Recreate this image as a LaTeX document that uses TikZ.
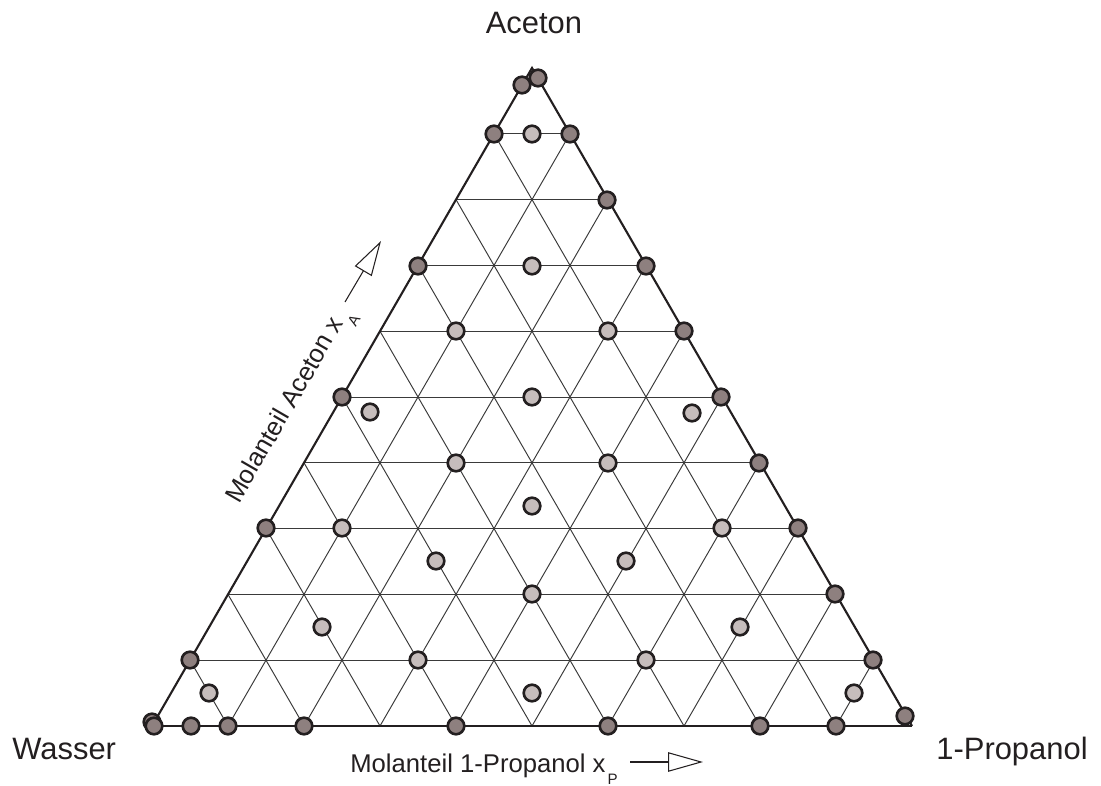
\documentclass[tikz,border=0pt]{standalone}
\usepackage{fontspec}
\setmainfont{Liberation Sans}
\usetikzlibrary{arrows.meta,calc}
\definecolor{ink}{HTML}{231F20}
\definecolor{darkfill}{HTML}{8E807F}
\definecolor{lightfill}{HTML}{C6BDBC}
\definecolor{gridc}{HTML}{3A3A3A}
\newcommand\lowsub[1]{\hspace{1.2pt}\raisebox{-7.2pt}{\fontsize{8.6pt}{9pt}\selectfont #1}}
\begin{document}
\begin{tikzpicture}[x=0.02cm,y=-0.02cm,
  gridline/.style={gridc, line width=0.55pt},
  edge/.style={ink, line width=1.2pt},
  baseedge/.style={ink, line width=1.7pt},
  dot/.style={circle, draw=ink, line width=1.5pt, minimum size=0.332cm, inner sep=0pt},
  ddot/.style={dot, fill=darkfill},
  ldot/.style={dot, fill=lightfill},
  axlabel/.style={font=\fontsize{14.6pt}{17pt}\selectfont, inner sep=0pt, text=ink},
  cornerlabel/.style={font=\fontsize{17.6pt}{20pt}\selectfont, inner sep=0pt, text=ink},
  openarrow/.style={ink, line width=0.6pt, -{Triangle[open, length=0.7cm, width=0.39cm]}}
]
\useasboundingbox (0,0) rectangle (1101,786);
\coordinate (W) at (152,726);
\coordinate (P) at (912,726);
\coordinate (C) at (532,68);
% grid
\foreach \k in {1,...,9} {
  \draw[gridline] ($(W)!\k/10!(C)$) -- ($(P)!\k/10!(C)$);
  \draw[gridline] ($(W)!\k/10!(P)$) -- ($(C)!\k/10!(P)$);
  \draw[gridline] ($(W)!\k/10!(P)$) -- ($(W)!\k/10!(C)$);
}
% outline
\draw[edge, line join=miter] (W) -- (C) -- (P);
\draw[baseedge] (W) -- (P);
% dark points (edges)
\node[ddot] (d01) at (152,722) {};
\node[ddot] (d02) at (154,726) {};
\node[ddot] (d03) at (190,660) {};
\node[ddot] (d04) at (266,528) {};
\node[ddot] (d05) at (342,397) {};
\node[ddot] (d06) at (418,266) {};
\node[ddot] (d07) at (494,134) {};
\node[ddot] (d08) at (522,85) {};
\node[ddot] (d09) at (538,78) {};
\node[ddot] (d10) at (191,726) {};
\node[ddot] (d11) at (228,726) {};
\node[ddot] (d12) at (304,726) {};
\node[ddot] (d13) at (456,726) {};
\node[ddot] (d14) at (608,726) {};
\node[ddot] (d15) at (760,726) {};
\node[ddot] (d16) at (836,726) {};
\node[ddot] (d17) at (570,134) {};
\node[ddot] (d18) at (607,200) {};
\node[ddot] (d19) at (646,266) {};
\node[ddot] (d20) at (684,331) {};
\node[ddot] (d21) at (721,397) {};
\node[ddot] (d22) at (759,463) {};
\node[ddot] (d23) at (798,528) {};
\node[ddot] (d24) at (835,594) {};
\node[ddot] (d25) at (873,660) {};
\node[ddot] (d26) at (905,716) {};
% light points (interior)
\node[ldot] (l01) at (532,134) {};
\node[ldot] (l02) at (532,266) {};
\node[ldot] (l03) at (456,331) {};
\node[ldot] (l04) at (608,331) {};
\node[ldot] (l05) at (532,397) {};
\node[ldot] (l06) at (370,412) {};
\node[ldot] (l07) at (692,413) {};
\node[ldot] (l08) at (456,463) {};
\node[ldot] (l09) at (608,463) {};
\node[ldot] (l10) at (532,506) {};
\node[ldot] (l11) at (342,528) {};
\node[ldot] (l12) at (722,528) {};
\node[ldot] (l13) at (436,561) {};
\node[ldot] (l14) at (626,561) {};
\node[ldot] (l15) at (532,594) {};
\node[ldot] (l16) at (322,627) {};
\node[ldot] (l17) at (740,627) {};
\node[ldot] (l18) at (418,660) {};
\node[ldot] (l19) at (646,660) {};
\node[ldot] (l20) at (209,693) {};
\node[ldot] (l21) at (854,693) {};
\node[ldot] (l22) at (532,693) {};
% corner labels
\node[cornerlabel, anchor=base] (lA) at (534,34) {Aceton};
\node[cornerlabel, anchor=base west] (lW) at (12,759) {Wasser};
\node[cornerlabel, anchor=base east] (lP) at (1088,759) {1-Propanol};
% axis labels
\node[axlabel, anchor=base west] (axP) at (350,772) {Molanteil 1-Propanol x\lowsub{P}};
\node[axlabel, anchor=base west, rotate=60] (axA) at (239,505) {Molanteil Aceton x\lowsub{A}};
% axis arrows
\coordinate (xp1) at (630,762);
\coordinate (xp2) at (703,762);
\draw[openarrow] (xp1) -- (xp2);
\coordinate (xa1) at (345,302);
\coordinate (xa2) at (381,241);
\draw[openarrow] (xa1) -- (xa2);
\end{tikzpicture}
\end{document}
